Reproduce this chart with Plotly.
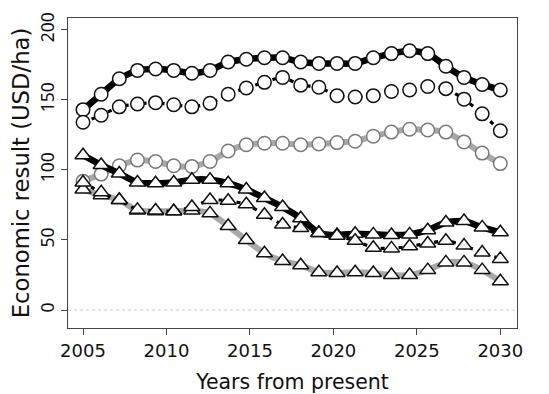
import numpy as np
import plotly.graph_objects as go

years = list(np.linspace(2005, 2030, 24))

circ_black = [143, 154, 165, 171, 172, 171, 169, 171, 177, 179, 180, 180,
              177, 176, 176, 176, 180, 183, 185, 183, 174, 166, 161, 157]
circ_dotted = [134, 139, 145, 147, 148, 146.5, 145, 147.5, 154, 158.5, 162.5, 166,
               160.5, 159, 153, 152, 153, 156, 157, 159.5, 158, 150.5, 140, 128]
circ_gray = [92, 97, 103, 107, 106, 103, 102.5, 106, 113.5, 118, 119, 119,
             118, 118.5, 119.5, 120.5, 124, 127, 129, 128.5, 127, 120, 112, 104.5]
tri_black = [110.5, 103.5, 97.5, 91, 90.5, 91, 93, 93, 90.5, 86, 80, 73.5,
             65.5, 55, 53.5, 54.5, 54, 53.5, 54, 57, 62.5, 63.5, 59, 55.5]
tri_dotted = [91, 84, 78.5, 71.5, 71, 70.5, 73.5, 78.5, 78, 75.5, 68, 61,
              58.5, 55, 53, 49.5, 44.5, 44, 45.5, 47.5, 49.5, 46, 41, 36.5]
tri_gray = [86, 82, 78.5, 71, 70.5, 70.5, 71, 69, 60, 50, 40.5, 35,
            32, 27, 26.5, 27, 26.5, 25, 25, 28.5, 34, 34, 28.5, 20.5]

x_ticks = [2005, 2010, 2015, 2020, 2025, 2030]
y_ticks = [0, 50, 100, 150, 200]

GRAY = "#a8a8a8"
fig = go.Figure()

def add(y, color, width, dash, symbol, msize, mline):
    fig.add_trace(go.Scatter(
        x=years, y=y, mode="lines+markers",
        line=dict(color=color, width=width, dash=dash, shape="spline", smoothing=0.6),
        marker=dict(symbol=symbol, size=msize, color="white",
                    line=dict(color=mline, width=1.5)),
        showlegend=False, cliponaxis=False))

add(circ_gray, GRAY, 6, "solid", "circle", 13.5, "#7a7a7a")
add(tri_gray, GRAY, 6, "solid", "triangle-up", 14, "#111111")
add(circ_black, "black", 6.5, "solid", "circle", 13.5, "#111111")
add(tri_black, "black", 6.5, "solid", "triangle-up", 14, "#111111")
add(circ_dotted, "black", 3.2, "4px,5px", "circle", 13.5, "#111111")
add(tri_dotted, "black", 3.2, "4px,5px", "triangle-up", 14, "#111111")

fig.add_shape(type="line", xref="paper", x0=0, x1=1, y0=0, y1=0,
              line=dict(color="#c8c8c8", width=1, dash="3px,3px"), layer="below")

fig.update_layout(
    width=549, height=394,
    margin=dict(l=60, r=40, t=10, b=74),
    paper_bgcolor="white", plot_bgcolor="white",
    font=dict(family="DejaVu Sans", color="#111111"),
    xaxis=dict(range=[2004.1, 2031.0], tickvals=x_ticks, ticks="outside", ticklen=6,
               tickcolor="#444", showline=True, linecolor="#444", linewidth=1.2,
               mirror=True, showgrid=False, zeroline=False, automargin=False,
               tickfont=dict(size=18, family="DejaVu Sans"),
               title=dict(text="Years from present", font=dict(size=20.5, family="DejaVu Sans"),
                          standoff=14)),
    yaxis=dict(range=[-12.8, 208.4], tickvals=y_ticks, ticks="outside", ticklen=6,
               tickcolor="#444", showline=True, linecolor="#444", linewidth=1.2,
               mirror=True, showgrid=False, zeroline=False, tickangle=-90,
               automargin=False,
               tickfont=dict(size=17.5, family="Liberation Sans Narrow, Noto Sans"),
               title=dict(text="Economic result (USD/ha)",
                          font=dict(size=22.7, family="DejaVu Sans"), standoff=2)),
)

fig.write_html("out.html")
